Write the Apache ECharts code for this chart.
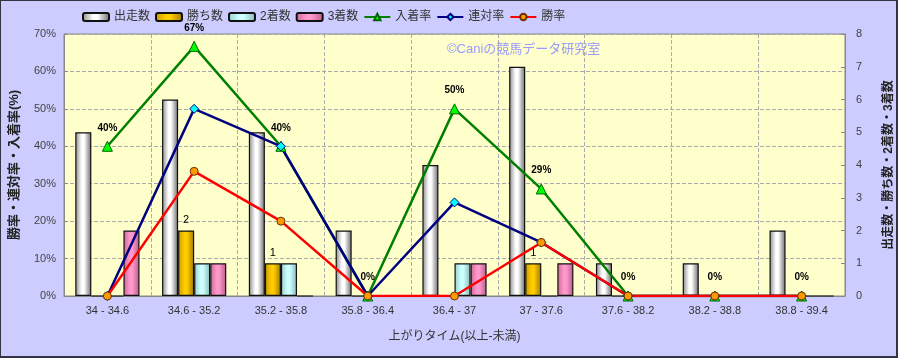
<!DOCTYPE html>
<html><head><meta charset="utf-8">
<script src="https://cdn.jsdelivr.net/npm/echarts@6/dist/echarts.min.js"></script>
<style>
html,body{margin:0;padding:0;background:#fff;}
#c{width:898px;height:358px;box-sizing:border-box;border-left:1px solid #333344;border-top:1px solid #333344;border-right:2px solid #333344;border-bottom:2px solid #333344;background:#CCCCFF;}
</style></head>
<body><div id="c"></div>
<script>
const categories = ['34 - 34.6','34.6 - 35.2','35.2 - 35.8','35.8 - 36.4','36.4 - 37','37 - 37.6','37.6 - 38.2','38.2 - 38.8','38.8 - 39.4'];
const runs   = [5, 6, 5, 2, 4, 7, 1, 1, 2];
const wins   = [0, 2, 1, 0, 0, 1, 0, 0, 0];
const second = [0, 1, 1, 0, 1, 0, 0, 0, 0];
const third  = [2, 1, 0, 0, 1, 1, 0, 0, 0];
const placeRate = [40, 66.7, 40, 0, 50, 28.6, 0, 0, 0];
const rentaiRate = [0, 50, 40, 0, 25, 14.3, 0, 0, 0];
const winRate = [0, 33.3, 20, 0, 0, 14.3, 0, 0, 0];
const leftTicks = [0, 70, 10];
const rightTicks = [0, 8, 1];

const FONT = '"Liberation Sans","Noto Sans CJK JP",sans-serif';
function grad(edge1, mid, edge2){
  return new echarts.graphic.LinearGradient(0,0,1,0,[
    {offset:0,color:edge1},{offset:0.4,color:mid},{offset:0.55,color:mid},{offset:1,color:edge2}]);
}
const chart = echarts.init(document.getElementById('c'));
const barBase = {type:'bar', yAxisIndex:1, barGap:'0%', barCategoryGap:'26%',
  itemStyle:{borderColor:'#111', borderWidth:1.2}};
chart.setOption({
  animation:false,
  textStyle:{fontFamily:FONT},
  legend:{left:76, top:5, itemWidth:26, itemHeight:8, itemGap:5,
    textStyle:{fontSize:12, color:'#333', fontFamily:FONT},
    data:['出走数','勝ち数','2着数','3着数','入着率','連対率','勝率']},
  grid:{left:63, right:51, top:33, bottom:60, outerBoundsMode:'none', containLabel:false,
    show:true, backgroundColor:'#FFFFCC', borderColor:'#888', borderWidth:1},
  graphic:[{type:'text', left:446, top:42, style:{text:'©Caniの競馬データ研究室', fill:'#9999FF', font:'13px '+FONT}}],
  xAxis:{type:'category', data:categories, boundaryGap:true,
    axisLine:{lineStyle:{color:'#888'}}, axisTick:{show:false},
    axisLabel:{fontSize:11, color:'#333', margin:9, fontFamily:FONT},
    splitLine:{show:true, lineStyle:{color:'#aaa', type:'dashed', width:1}},
    name:'上がりタイム(以上-未満)', nameLocation:'middle', nameGap:35,
    nameTextStyle:{fontSize:12, color:'#333', fontFamily:FONT}},
  yAxis:[
    {type:'value', min:leftTicks[0], max:leftTicks[1], interval:leftTicks[2],
     axisLine:{show:true, lineStyle:{color:'#888'}}, axisTick:{show:true, inside:true, length:4, lineStyle:{color:'#888'}},
     axisLabel:{formatter:'{value}%', fontSize:11, color:'#444', margin:8, fontFamily:FONT},
     splitLine:{show:true, lineStyle:{color:'#aaa', type:'dashed'}},
     name:'勝率・連対率・入着率(%)', nameLocation:'middle', nameGap:43,
     nameTextStyle:{fontSize:13, fontWeight:'bold', color:'#222', fontFamily:FONT}},
    {type:'value', min:rightTicks[0], max:rightTicks[1], interval:rightTicks[2], position:'right',
     axisLine:{show:true, lineStyle:{color:'#888'}}, axisTick:{show:true, inside:true, length:4, lineStyle:{color:'#888'}},
     axisLabel:{fontSize:11, color:'#444', margin:11, fontFamily:FONT},
     splitLine:{show:false},
     name:'出走数・勝ち数・2着数・3着数', nameLocation:'middle', nameGap:38, nameRotate:90,
     nameTextStyle:{fontSize:12, fontWeight:'bold', color:'#222', fontFamily:FONT}}
  ],
  series:[
    Object.assign({}, barBase, {name:'出走数', data:runs, itemStyle:Object.assign({}, barBase.itemStyle, {color:grad('#8a8a8a','#ffffff','#6a6a6a')})}),
    Object.assign({}, barBase, {name:'勝ち数', data:wins, itemStyle:Object.assign({}, barBase.itemStyle, {color:grad('#c89a00','#FFCC00','#a07800')}),
      label:{show:true, position:'top', distance:5, fontSize:11, color:'#000', fontFamily:FONT, formatter:p=>p.value>0?String(p.value):''}}),
    Object.assign({}, barBase, {name:'2着数', data:second, itemStyle:Object.assign({}, barBase.itemStyle, {color:grad('#99cccc','#CCFFFF','#88b8b8')})}),
    Object.assign({}, barBase, {name:'3着数', data:third, itemStyle:Object.assign({}, barBase.itemStyle, {color:grad('#cc6699','#FF99CC','#b85c8a')})}),
    {name:'入着率', type:'line', yAxisIndex:0, data:placeRate, symbol:'triangle', symbolSize:10,
     lineStyle:{color:'#008000', width:2.5}, itemStyle:{color:'#00FF00', borderColor:'#006600', borderWidth:1},
     label:{show:true, position:'top', distance:8, fontSize:10, fontWeight:'bold', color:'#000', fontFamily:FONT, formatter:p=>Math.round(p.value)+'%'}},
    {name:'連対率', type:'line', yAxisIndex:0, data:rentaiRate, symbol:'diamond', symbolSize:9,
     lineStyle:{color:'#000080', width:2.5}, itemStyle:{color:'#00FFFF', borderColor:'#000080', borderWidth:1}},
    {name:'勝率', type:'line', yAxisIndex:0, data:winRate, symbol:'circle', symbolSize:8,
     lineStyle:{color:'#FF0000', width:2.5}, itemStyle:{color:'#FF9900', borderColor:'#663300', borderWidth:1}}
  ]
});
</script></body></html>
